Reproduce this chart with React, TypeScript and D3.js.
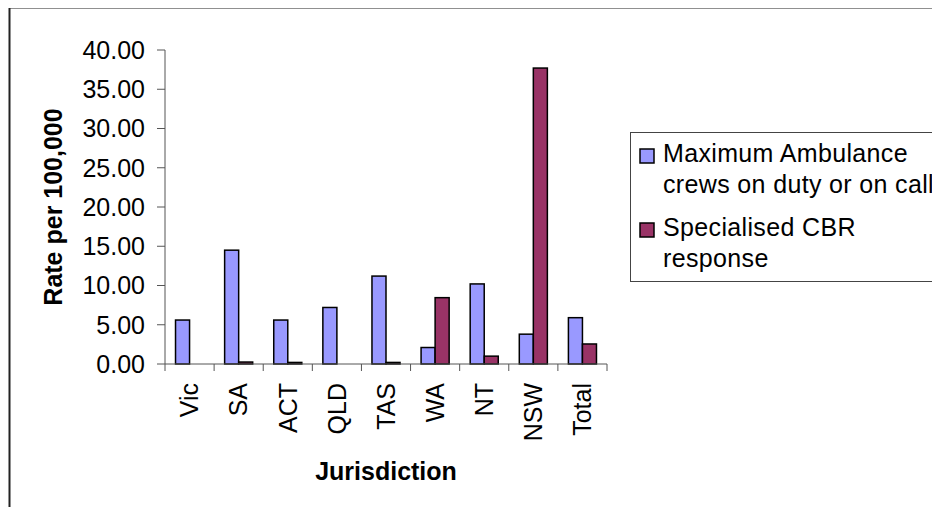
import React from 'react';
import { scaleBand, scaleLinear, range } from 'd3';

const categories = ['Vic', 'SA', 'ACT', 'QLD', 'TAS', 'WA', 'NT', 'NSW', 'Total'];
const ambulanceCrews = [5.6, 14.5, 5.6, 7.2, 11.2, 2.1, 10.2, 3.8, 5.9];
const specialisedCbr = [0, 0.25, 0.2, 0, 0.2, 8.45, 1.0, 37.7, 2.55];
const yTicks = [0, 5, 10, 15, 20, 25, 30, 35, 40];

const App = () => {
    let margin = { top: 50, left: 165, right: 607, bottom: 364 };
    let font = '"Liberation Sans", Arial, sans-serif';

    let x = scaleBand<string>().domain(categories).range([margin.left, margin.right]);
    let y = scaleLinear().domain([0, 40]).range([margin.bottom, margin.top]);
    let bw = x.bandwidth();
    let barW = bw / 3.5;
    let x1 = scaleBand<number>().domain([0, 1]).range([bw * 0.75 / 3.5, bw * 0.75 / 3.5 + 2 * barW]);

    function getColor(i: number) {
        if (i == 0) return '#9999FF';
        return '#993366';
    }

    let series = [ambulanceCrews, specialisedCbr];

    let bars = categories.map((c, ci) => (
        <g key={c} transform={`translate(${x(c)},0)`}>
            {series.map((s, si) => (
                s[ci] > 0 ?
                    <rect key={si} x={x1(si)} y={y(s[ci])} width={x1.bandwidth()} height={y(0) - y(s[ci])}
                        fill={getColor(si)} stroke="black" strokeWidth={1.5} /> : null
            ))}
        </g>
    ));

    let yAxis = yTicks.map(t => (
        <g key={t} transform={`translate(${margin.left},${y(t)})`}>
            <line x1={-8} x2={0} stroke="#555" strokeWidth={1} />
            <text x={-20} dy="0.35em" textAnchor="end" fontSize={25} fontFamily={font}>{t.toFixed(2)}</text>
        </g>
    ));

    let xTicks = range(categories.length + 1).map(i => (
        <line key={i} x1={margin.left + i * bw} x2={margin.left + i * bw} y1={margin.bottom} y2={margin.bottom + 7} stroke="#555" />
    ));

    let xLabels = categories.map(c => (
        <text key={c} transform={`translate(${(x(c) as number) + bw / 2},383) rotate(-90)`} dy="0.35em" textAnchor="end"
            fontSize={25} fontFamily={font}>{c}</text>
    ));

    return (
        <div style={{ margin: -8 }}>
            <svg width={940} height={515} style={{ display: 'block' }}>
                <rect x={0} y={0} width={940} height={515} fill="white" />
                <line x1={9.5} x2={940} y1={7.5} y2={7.5} stroke="#222" strokeWidth={2} />
                <line x1={9.5} x2={9.5} y1={7.5} y2={515} stroke="#222" strokeWidth={2} />

                <g>{bars}</g>
                <line x1={margin.left} x2={margin.left} y1={margin.top} y2={margin.bottom} stroke="#555" />
                <line x1={margin.left} x2={margin.right} y1={margin.bottom} y2={margin.bottom} stroke="#555" />
                <g>{yAxis}</g>
                <g>{xTicks}</g>
                <g>{xLabels}</g>

                <text transform={`translate(53,${(margin.top + margin.bottom) / 2}) rotate(-90)`} dy="0.35em" textAnchor="middle"
                    fontSize={25} fontWeight="bold" fontFamily={font}>Rate per 100,000</text>
                <text x={(margin.left + margin.right) / 2} y={480} textAnchor="middle" fontSize={25} fontWeight="bold" fontFamily={font}>Jurisdiction</text>

                <g>
                    <rect x={630.5} y={132.5} width={330} height={149} fill="white" stroke="#444" />
                    <rect x={640} y={149} width={14} height={14} fill={getColor(0)} stroke="black" strokeWidth={1.5} />
                    <text x={663} y={162} fontSize={25} fontFamily={font} letterSpacing={0.35}>Maximum Ambulance</text>
                    <text x={663} y={193} fontSize={25} fontFamily={font} letterSpacing={0.35}>crews on duty or on call</text>
                    <rect x={640} y={223} width={14} height={14} fill={getColor(1)} stroke="black" strokeWidth={1.5} />
                    <text x={663} y={236} fontSize={25} fontFamily={font} letterSpacing={0.35}>Specialised CBR</text>
                    <text x={663} y={267} fontSize={25} fontFamily={font} letterSpacing={0.35}>response</text>
                </g>
            </svg>
        </div>
    );
}

export default App;
